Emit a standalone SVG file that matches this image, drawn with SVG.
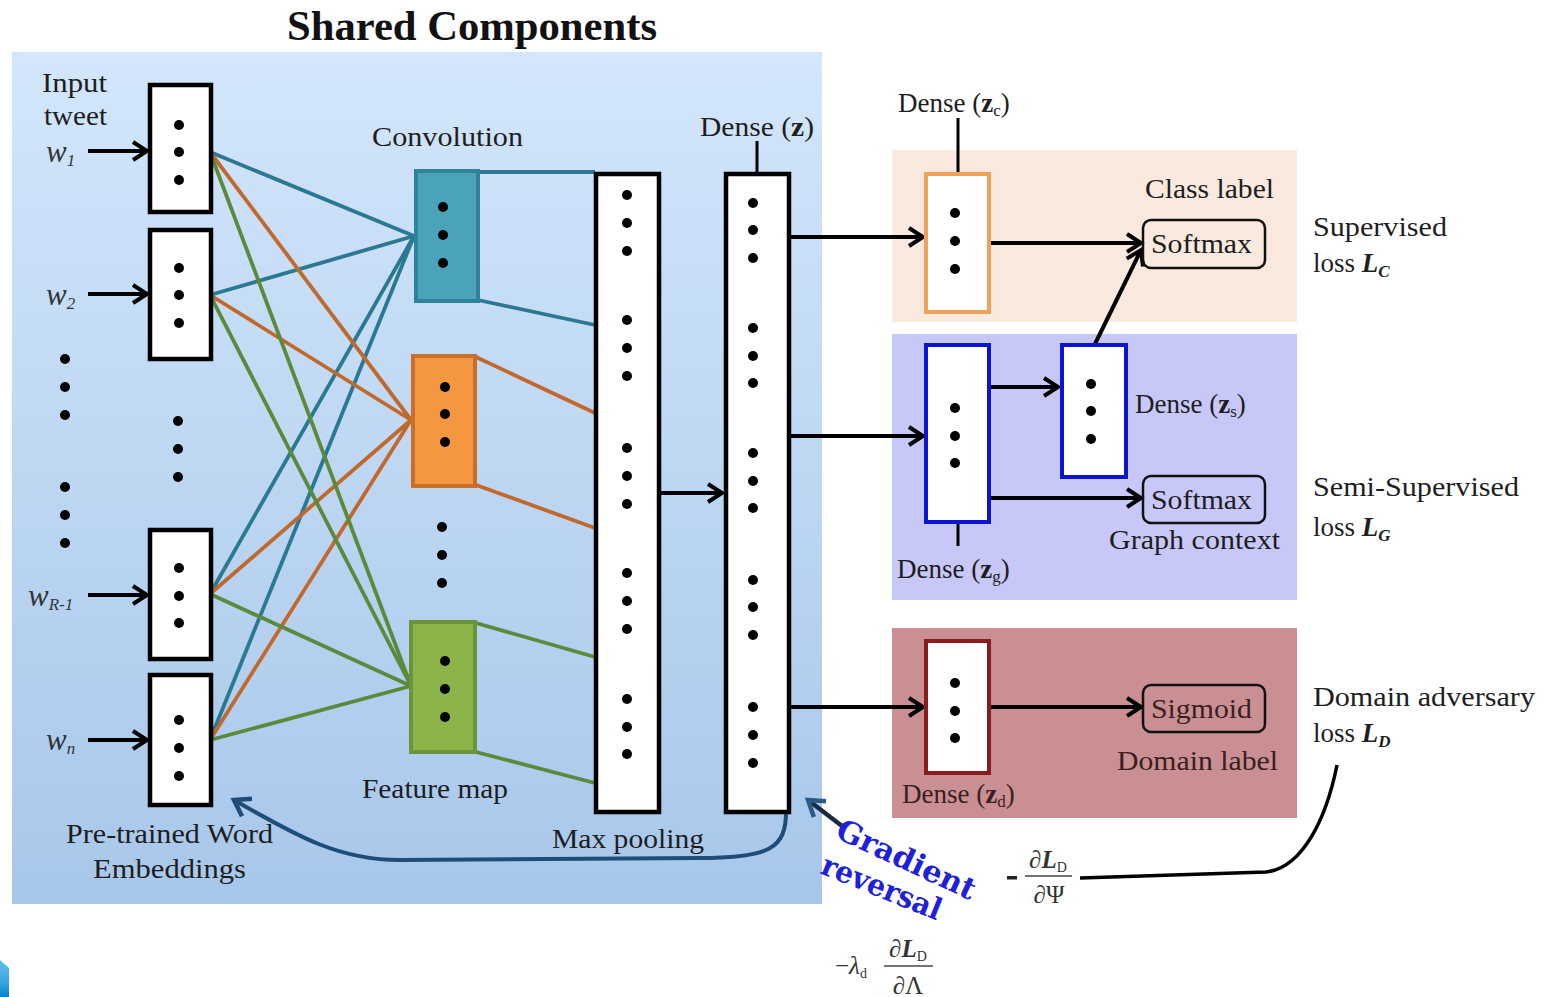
<svg xmlns="http://www.w3.org/2000/svg" width="1546" height="997" viewBox="0 0 1546 997">
<defs>
  <linearGradient id="gShared" x1="0" y1="0" x2="0" y2="1">
    <stop offset="0" stop-color="#d3e6fb"/>
    <stop offset="1" stop-color="#a7c7ea"/>
  </linearGradient>
  <marker id="ah" markerUnits="userSpaceOnUse" markerWidth="26" markerHeight="26" refX="20" refY="13" orient="auto">
    <path d="M6,4 L20,13 L6,22" fill="none" stroke="#000" stroke-width="4"/>
  </marker>
  <marker id="ahBlue" markerUnits="userSpaceOnUse" markerWidth="30" markerHeight="30" refX="22" refY="15" orient="auto">
    <path d="M7,5 L22,15 L7,25" fill="none" stroke="#1f4d78" stroke-width="4.5"/>
  </marker>
  <marker id="ahGR" markerUnits="userSpaceOnUse" markerWidth="30" markerHeight="30" refX="22" refY="15" orient="auto">
    <path d="M7,5 L22,15 L7,25" fill="none" stroke="#2a5a85" stroke-width="4.5"/>
  </marker>
  <linearGradient id="gCorner" x1="0" y1="0" x2="0" y2="1">
    <stop offset="0" stop-color="#5fc0ea"/>
    <stop offset="0.6" stop-color="#3aa6de"/>
    <stop offset="1" stop-color="#0b7fc9"/>
  </linearGradient>
</defs>
<style>
  text { font-family: "Liberation Serif", "Times New Roman", serif; fill: #1e1e1e; }
  .lbl { font-size: 27px; }
  .title { font-size: 42px; font-weight: bold; fill: #111; }
  .box { fill: #fff; stroke: #000; stroke-width: 4.5; }
  .dot { fill: #000; }
  .arr { stroke: #000; stroke-width: 4; fill: none; marker-end: url(#ah); }
  .wire { stroke-width: 3.8; fill: none; }
  .teal { stroke: #2a7891; }
  .orng { stroke: #c1692c; }
  .grn { stroke: #5a8a3c; }
  .soft { fill: none; stroke: #111; stroke-width: 2.5; }
  .wlab { font-size: 31px; font-style: italic; fill: #333; }
  .sub { font-size: 17px; }
  .bz { font-weight: bold; }
  .bi { font-weight: bold; font-style: italic; }
  .gr { font-family: "DejaVu Serif", "Liberation Serif", serif; font-weight: bold; font-size: 30px; fill: #2020dc; }
  .fm { font-size: 25px; fill: #333; }
  .fs { font-size: 14px; }
</style>

<!-- Background panels -->
<rect id="shared-panel" x="12" y="52" width="810" height="852" fill="url(#gShared)"/>
<rect id="panel-class" x="892" y="150" width="405" height="172" fill="#f9e9de"/>
<rect id="panel-graph" x="892" y="334" width="405" height="266" fill="#c7c7f8"/>
<rect id="panel-domain" x="892" y="628" width="405" height="190" fill="#c98f92"/>
<polygon id="corner-fragment" points="0,960 9,968 9,997 0,997" fill="url(#gCorner)"/>

<text class="title" x="287" y="40" textLength="370" lengthAdjust="spacingAndGlyphs">Shared Components</text>

<!-- Connectors -->
<g id="connectors">
  <line class="arr" x1="88" y1="151" x2="147" y2="151"/>
  <line class="arr" x1="88" y1="294" x2="147" y2="294"/>
  <line class="arr" x1="88" y1="595" x2="147" y2="595"/>
  <line class="arr" x1="88" y1="740" x2="147" y2="740"/>
  <g class="wire">
    <line class="teal" x1="210" y1="152" x2="414" y2="236"/>
    <line class="teal" x1="210" y1="295" x2="414" y2="236"/>
    <line class="teal" x1="210" y1="594" x2="414" y2="236"/>
    <line class="teal" x1="210" y1="740" x2="414" y2="236"/>
    <line class="orng" x1="210" y1="152" x2="411" y2="420"/>
    <line class="orng" x1="210" y1="295" x2="411" y2="420"/>
    <line class="orng" x1="210" y1="594" x2="411" y2="420"/>
    <line class="orng" x1="210" y1="740" x2="411" y2="420"/>
    <line class="grn" x1="210" y1="152" x2="411" y2="686"/>
    <line class="grn" x1="210" y1="295" x2="411" y2="686"/>
    <line class="grn" x1="210" y1="594" x2="411" y2="686"/>
    <line class="grn" x1="210" y1="740" x2="411" y2="686"/>
    <line class="teal" x1="478" y1="172" x2="595" y2="172"/>
    <line class="teal" x1="478" y1="300" x2="595" y2="325"/>
    <line class="orng" x1="476" y1="357" x2="595" y2="413"/>
    <line class="orng" x1="476" y1="485" x2="595" y2="528"/>
    <line class="grn" x1="476" y1="623" x2="595" y2="657"/>
    <line class="grn" x1="476" y1="752" x2="595" y2="783"/>
  </g>
  <line class="arr" x1="660" y1="493" x2="722" y2="493"/>
  <line x1="757" y1="141" x2="757" y2="174" stroke="#000" stroke-width="3"/>
  <line x1="958" y1="118" x2="958" y2="173" stroke="#000" stroke-width="3"/>
  <line x1="958" y1="522" x2="958" y2="546" stroke="#000" stroke-width="3"/>
  <line class="arr" x1="790" y1="237" x2="923" y2="237"/>
  <line class="arr" x1="790" y1="436" x2="923" y2="436"/>
  <line class="arr" x1="790" y1="707" x2="923" y2="707"/>
  <line class="arr" x1="990" y1="243" x2="1141" y2="243"/>
  <line class="arr" x1="1095" y1="344" x2="1141" y2="250"/>
  <line class="arr" x1="990" y1="387" x2="1058" y2="387"/>
  <line class="arr" x1="990" y1="498" x2="1141" y2="498"/>
  <line class="arr" x1="990" y1="707" x2="1141" y2="707"/>
  <path d="M786,812 C786,848 770,858 700,858 L400,860 C340,860 300,838 234,800" fill="none" stroke="#1f4d78" stroke-width="4" marker-end="url(#ahBlue)"/>
  <line x1="842" y1="826" x2="808" y2="800" stroke="#1a2a3f" stroke-width="4.5" marker-end="url(#ahGR)"/>
  <path d="M1337,765 C1326,820 1302,868 1266,872 L1080,878" fill="none" stroke="#000" stroke-width="3.5"/>
</g>

<!-- Input embeddings -->
<g id="input-labels">
  <text class="lbl" x="42" y="92" textLength="65" lengthAdjust="spacingAndGlyphs">Input</text>
  <text class="lbl" x="44" y="125" textLength="63" lengthAdjust="spacingAndGlyphs">tweet</text>
  <text class="wlab" x="46" y="162">w<tspan class="sub" dy="4">1</tspan></text>
  <text class="wlab" x="46" y="305">w<tspan class="sub" dy="4">2</tspan></text>
  <text class="wlab" x="28" y="606">w<tspan class="sub" dy="4">R-1</tspan></text>
  <text class="wlab" x="46" y="750">w<tspan class="sub" dy="4">n</tspan></text>
  <text class="lbl" x="66" y="843" textLength="207" lengthAdjust="spacingAndGlyphs">Pre-trained Word</text>
  <text class="lbl" x="93" y="878" textLength="153" lengthAdjust="spacingAndGlyphs">Embeddings</text>
</g>
<g id="word-w1">
  <rect class="box" x="150" y="85" width="61" height="127"/>
  <circle class="dot" cx="179" cy="125" r="5"/><circle class="dot" cx="179" cy="152" r="5"/><circle class="dot" cx="179" cy="180" r="5"/>
</g>
<g id="word-w2">
  <rect class="box" x="150" y="230" width="61" height="129"/>
  <circle class="dot" cx="179" cy="268" r="5"/><circle class="dot" cx="179" cy="295" r="5"/><circle class="dot" cx="179" cy="323" r="5"/>
</g>
<g id="word-wR1">
  <rect class="box" x="150" y="530" width="61" height="129"/>
  <circle class="dot" cx="179" cy="568" r="5"/><circle class="dot" cx="179" cy="596" r="5"/><circle class="dot" cx="179" cy="623" r="5"/>
</g>
<g id="word-wn">
  <rect class="box" x="150" y="675" width="61" height="130"/>
  <circle class="dot" cx="179" cy="720" r="5"/><circle class="dot" cx="179" cy="748" r="5"/><circle class="dot" cx="179" cy="776" r="5"/>
</g>
<g id="ellipsis-dots">
  <circle class="dot" cx="65" cy="359" r="5"/><circle class="dot" cx="65" cy="387" r="5"/><circle class="dot" cx="65" cy="415" r="5"/>
  <circle class="dot" cx="65" cy="487" r="5"/><circle class="dot" cx="65" cy="515" r="5"/><circle class="dot" cx="65" cy="543" r="5"/>
  <circle class="dot" cx="178" cy="421" r="5"/><circle class="dot" cx="178" cy="449" r="5"/><circle class="dot" cx="178" cy="477" r="5"/>
  <circle class="dot" cx="442" cy="527" r="5"/><circle class="dot" cx="442" cy="555" r="5"/><circle class="dot" cx="442" cy="583" r="5"/>
</g>

<!-- Convolution feature maps -->
<text class="lbl" x="372" y="146" textLength="151" lengthAdjust="spacingAndGlyphs">Convolution</text>
<g id="fmap-teal">
  <rect x="416" y="171" width="62" height="130" fill="#4aa3b9" stroke="#2e8299" stroke-width="4"/>
  <circle class="dot" cx="443" cy="207" r="5"/><circle class="dot" cx="443" cy="235" r="5"/><circle class="dot" cx="443" cy="263" r="5"/>
</g>
<g id="fmap-orange">
  <rect x="413" y="356" width="62" height="130" fill="#f59640" stroke="#c86f2a" stroke-width="4"/>
  <circle class="dot" cx="445" cy="387" r="5"/><circle class="dot" cx="445" cy="414" r="5"/><circle class="dot" cx="445" cy="442" r="5"/>
</g>
<g id="fmap-green">
  <rect x="411" y="622" width="64" height="130" fill="#8db44b" stroke="#6c953b" stroke-width="4"/>
  <circle class="dot" cx="445" cy="661" r="5"/><circle class="dot" cx="445" cy="689" r="5"/><circle class="dot" cx="445" cy="717" r="5"/>
</g>
<text class="lbl" x="362" y="798" textLength="146" lengthAdjust="spacingAndGlyphs">Feature map</text>

<!-- Max pooling -->
<g id="maxpool">
  <rect class="box" x="596" y="174" width="63" height="638"/>
  <circle class="dot" cx="627" cy="195" r="5"/><circle class="dot" cx="627" cy="223" r="5"/><circle class="dot" cx="627" cy="251" r="5"/>
  <circle class="dot" cx="627" cy="320" r="5"/><circle class="dot" cx="627" cy="348" r="5"/><circle class="dot" cx="627" cy="376" r="5"/>
  <circle class="dot" cx="627" cy="448" r="5"/><circle class="dot" cx="627" cy="476" r="5"/><circle class="dot" cx="627" cy="504" r="5"/>
  <circle class="dot" cx="627" cy="573" r="5"/><circle class="dot" cx="627" cy="601" r="5"/><circle class="dot" cx="627" cy="629" r="5"/>
  <circle class="dot" cx="627" cy="699" r="5"/><circle class="dot" cx="627" cy="727" r="5"/><circle class="dot" cx="627" cy="754" r="5"/>
  <text class="lbl" x="552" y="848" textLength="152" lengthAdjust="spacingAndGlyphs">Max pooling</text>
</g>

<!-- Dense z -->
<g id="dense-z">
  <rect class="box" x="726" y="174" width="63" height="638"/>
  <circle class="dot" cx="753" cy="203" r="5"/><circle class="dot" cx="753" cy="230" r="5"/><circle class="dot" cx="753" cy="258" r="5"/>
  <circle class="dot" cx="753" cy="328" r="5"/><circle class="dot" cx="753" cy="356" r="5"/><circle class="dot" cx="753" cy="383" r="5"/>
  <circle class="dot" cx="753" cy="453" r="5"/><circle class="dot" cx="753" cy="481" r="5"/><circle class="dot" cx="753" cy="508" r="5"/>
  <circle class="dot" cx="753" cy="580" r="5"/><circle class="dot" cx="753" cy="607" r="5"/><circle class="dot" cx="753" cy="635" r="5"/>
  <circle class="dot" cx="753" cy="707" r="5"/><circle class="dot" cx="753" cy="735" r="5"/><circle class="dot" cx="753" cy="763" r="5"/>
  <text class="lbl" x="700" y="136" textLength="114" lengthAdjust="spacingAndGlyphs">Dense (<tspan class="bz">z</tspan>)</text>
</g>

<!-- Class head -->
<g id="dense-zc">
  <rect x="926" y="174" width="63" height="138" fill="#fff" stroke="#f0a358" stroke-width="4"/>
  <circle class="dot" cx="955" cy="213" r="5"/><circle class="dot" cx="955" cy="241" r="5"/><circle class="dot" cx="955" cy="269" r="5"/>
  <text class="lbl" x="898" y="112">Dense (<tspan class="bz">z</tspan><tspan class="sub" dy="4">c</tspan><tspan dy="-4">)</tspan></text>
</g>
<g id="softmax-class">
  <rect class="soft" x="1143" y="220" width="122" height="48" rx="8"/>
  <text class="lbl" x="1151" y="253" textLength="101" lengthAdjust="spacingAndGlyphs">Softmax</text>
  <text class="lbl" x="1145" y="198" textLength="129" lengthAdjust="spacingAndGlyphs">Class label</text>
</g>
<g id="loss-c">
  <text class="lbl" x="1313" y="236" textLength="134" lengthAdjust="spacingAndGlyphs">Supervised</text>
  <text class="lbl" x="1313" y="272">loss <tspan class="bi">L</tspan><tspan class="bi sub" dy="5">C</tspan></text>
</g>

<!-- Graph head -->
<g id="dense-zg">
  <rect x="926" y="345" width="63" height="177" fill="#fff" stroke="#0a14d2" stroke-width="4"/>
  <circle class="dot" cx="955" cy="408" r="5"/><circle class="dot" cx="955" cy="436" r="5"/><circle class="dot" cx="955" cy="463" r="5"/>
  <text class="lbl" x="897" y="578">Dense (<tspan class="bz">z</tspan><tspan class="sub" dy="4">g</tspan><tspan dy="-4">)</tspan></text>
</g>
<g id="dense-zs">
  <rect x="1062" y="345" width="64" height="132" fill="#fff" stroke="#0a14d2" stroke-width="4"/>
  <circle class="dot" cx="1091" cy="384" r="5"/><circle class="dot" cx="1091" cy="411" r="5"/><circle class="dot" cx="1091" cy="439" r="5"/>
  <text class="lbl" x="1135" y="413">Dense (<tspan class="bz">z</tspan><tspan class="sub" dy="4">s</tspan><tspan dy="-4">)</tspan></text>
</g>
<g id="softmax-graph">
  <rect class="soft" x="1143" y="476" width="122" height="47" rx="8"/>
  <text class="lbl" x="1151" y="509" textLength="101" lengthAdjust="spacingAndGlyphs">Softmax</text>
  <text class="lbl" x="1109" y="549" textLength="171" lengthAdjust="spacingAndGlyphs">Graph context</text>
</g>
<g id="loss-g">
  <text class="lbl" x="1313" y="496" textLength="206" lengthAdjust="spacingAndGlyphs">Semi-Supervised</text>
  <text class="lbl" x="1313" y="536">loss <tspan class="bi">L</tspan><tspan class="bi sub" dy="5">G</tspan></text>
</g>

<!-- Domain head -->
<g id="dense-zd">
  <rect x="926" y="641" width="63" height="132" fill="#fff" stroke="#8a1c1c" stroke-width="4"/>
  <circle class="dot" cx="955" cy="683" r="5"/><circle class="dot" cx="955" cy="711" r="5"/><circle class="dot" cx="955" cy="738" r="5"/>
  <text class="lbl" x="902" y="803" style="fill:#3a2020">Dense (<tspan class="bz">z</tspan><tspan class="sub" dy="4">d</tspan><tspan dy="-4">)</tspan></text>
</g>
<g id="sigmoid-domain">
  <rect class="soft" x="1143" y="685" width="122" height="47" rx="8"/>
  <text class="lbl" x="1151" y="718" textLength="101" lengthAdjust="spacingAndGlyphs" style="fill:#3a2020">Sigmoid</text>
  <text class="lbl" x="1117" y="770" textLength="161" lengthAdjust="spacingAndGlyphs" style="fill:#3a2020">Domain label</text>
</g>
<g id="loss-d">
  <text class="lbl" x="1313" y="706" textLength="222" lengthAdjust="spacingAndGlyphs">Domain adversary</text>
  <text class="lbl" x="1313" y="742">loss <tspan class="bi">L</tspan><tspan class="bi sub" dy="5">D</tspan></text>
</g>

<!-- Gradient reversal -->
<g id="gradient-reversal">
  <text class="gr" transform="translate(834,837) rotate(25)" textLength="150" lengthAdjust="spacingAndGlyphs">Gradient</text>
  <text class="gr" transform="translate(819,873) rotate(22)" textLength="127" lengthAdjust="spacingAndGlyphs">reversal</text>
</g>

<!-- Formulas -->
<g id="formula-psi">
  <rect x="1007" y="876" width="10" height="3.5" fill="#222"/>
  <text class="fm" x="1048" y="868" text-anchor="middle">∂<tspan class="bi">L</tspan><tspan class="fs" dy="4">D</tspan></text>
  <line x1="1025" y1="876" x2="1072" y2="876" stroke="#444" stroke-width="1.5"/>
  <text class="fm" x="1049" y="903" text-anchor="middle">∂Ψ</text>
</g>
<g id="formula-lambda">
  <text class="fm" x="835" y="974">−<tspan font-style="italic">λ</tspan><tspan class="fs" dy="4">d</tspan></text>
  <text class="fm" x="908" y="957" text-anchor="middle">∂<tspan class="bi">L</tspan><tspan class="fs" dy="4">D</tspan></text>
  <line x1="884" y1="966" x2="933" y2="966" stroke="#444" stroke-width="1.5"/>
  <text class="fm" x="908" y="994" text-anchor="middle">∂Λ</text>
</g>
</svg>
